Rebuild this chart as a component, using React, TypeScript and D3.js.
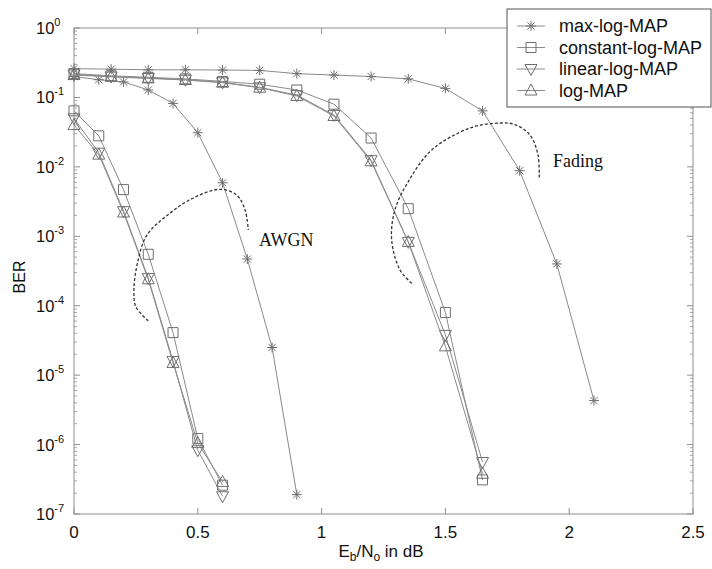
import React from "react";
import * as d3 from "d3";

// ---------- data ----------
const xAwgn = [0, 0.1, 0.2, 0.3, 0.4, 0.5, 0.6];
const xAwgnMax = [0, 0.1, 0.2, 0.3, 0.4, 0.5, 0.6, 0.7, 0.8, 0.9];
const xFade = [0, 0.15, 0.3, 0.45, 0.6, 0.75, 0.9, 1.05, 1.2, 1.35, 1.5, 1.65];
const xFadeMax = [0, 0.15, 0.3, 0.45, 0.6, 0.75, 0.9, 1.05, 1.2, 1.35, 1.5, 1.65, 1.8, 1.95, 2.1];

const maxLogAwgn = [0.2, 0.18, 0.167, 0.128, 0.082, 0.031, 5.9e-3, 4.7e-4, 2.5e-5, 1.9e-7];
const constAwgn = [0.064, 0.028, 4.7e-3, 5.5e-4, 4.1e-5, 1.22e-6, 2.6e-7];
const linearAwgn = [0.05, 0.016, 2.3e-3, 2.5e-4, 1.6e-5, 8.3e-7, 1.8e-7];
const logAwgn = [0.04, 0.015, 2.2e-3, 2.4e-4, 1.5e-5, 1.05e-6, 2.9e-7];

const maxLogFade = [0.26, 0.255, 0.25, 0.25, 0.248, 0.245, 0.22, 0.21, 0.2, 0.185, 0.135, 0.064, 0.0088, 4e-4, 4.3e-6];
const constFade = [0.22, 0.205, 0.195, 0.185, 0.17, 0.155, 0.128, 0.08, 0.026, 2.5e-3, 8e-5, 3.1e-7];
const linearFade = [0.215, 0.2, 0.19, 0.18, 0.165, 0.14, 0.108, 0.056, 0.0125, 8.3e-4, 3.8e-5, 5.6e-7];
const logFade = [0.21, 0.198, 0.188, 0.178, 0.163, 0.138, 0.105, 0.054, 0.012, 8.3e-4, 2.6e-5, 3.8e-7];

const seriesNames = ["max-log-MAP", "constant-log-MAP", "linear-log-MAP", "log-MAP"];
const seriesMarkers = ["star", "square", "tdown", "tup"];

const xTicks = [0, 0.5, 1, 1.5, 2, 2.5];
const xTickLabels = ["0", "0.5", "1", "1.5", "2", "2.5"];
const yExponents = [0, -1, -2, -3, -4, -5, -6, -7];

// annotation arcs (data coords)
const awgnArcX = [0.3, 0.25, 0.242, 0.256, 0.294, 0.388, 0.489, 0.59, 0.657, 0.691, 0.704];
const awgnArcY = [6.05e-5, 9.6e-5, 1.68e-4, 4.07e-4, 1.03e-3, 2.16e-3, 3.67e-3, 4.74e-3, 3.92e-3, 2.39e-3, 1.23e-3];
const fadeArcX = [1.364, 1.317, 1.283, 1.296, 1.349, 1.445, 1.599, 1.721, 1.781, 1.842, 1.874, 1.879];
const fadeArcY = [2.1e-4, 3.26e-4, 8.8e-4, 2.39e-3, 6.04e-3, 1.75e-2, 3.62e-2, 4.28e-2, 4.07e-2, 2.87e-2, 1.48e-2, 6.9e-3];

const annotations = [
  { text: "AWGN", x: 0.747, y: 7.2e-4 },
  { text: "Fading", x: 1.935, y: 9.9e-3 },
];

// ---------- layout ----------
const W = 712, H = 569;
const L = 74, R = 693, T = 28, B = 514;
const LINE = "#8a8a8a";
const MARK = "#6e6e6e";
const FRAME = "#8f8f8f";
const TEXT = "#111";
const SANS = "'Liberation Sans', Arial, Helvetica, sans-serif";
const SERIF = "'Liberation Serif', 'Times New Roman', serif";

const x = d3.scaleLinear().domain([0, 2.5]).range([L, R]);
const y = d3.scaleLog().domain([1e-7, 1]).range([B, T]);

function markerPath(kind: string): string {
  const r = 5;
  switch (kind) {
    case "star": {
      const d = 3.6;
      return `M${-r},0H${r}M0,${-r}V${r}M${-d},${-d}L${d},${d}M${-d},${d}L${d},${-d}`;
    }
    case "square":
      return `M-5,-5H5V5H-5Z`;
    case "tdown":
      return `M-6,-4.5L6,-4.5L0,6.5Z`;
    case "tup":
      return `M-6,4.5L6,4.5L0,-6.5Z`;
  }
  return "";
}

const line = d3
  .line<[number, number]>()
  .x((d) => x(d[0]))
  .y((d) => y(d[1]));

const arcLine = d3
  .line<[number, number]>()
  .x((d) => x(d[0]))
  .y((d) => y(d[1]))
  .curve(d3.curveCatmullRom.alpha(0.5));

function zip(xs: number[], ys: number[]): [number, number][] {
  return ys.map((v, i) => [xs[i], v]);
}

const allSeries: { pts: [number, number][]; marker: string }[] = [
  { pts: zip(xAwgnMax, maxLogAwgn), marker: "star" },
  { pts: zip(xAwgn, constAwgn), marker: "square" },
  { pts: zip(xAwgn, linearAwgn), marker: "tdown" },
  { pts: zip(xAwgn, logAwgn), marker: "tup" },
  { pts: zip(xFadeMax, maxLogFade), marker: "star" },
  { pts: zip(xFade, constFade), marker: "square" },
  { pts: zip(xFade, linearFade), marker: "tdown" },
  { pts: zip(xFade, logFade), marker: "tup" },
];

export default function App() {
  const minor: number[] = [];
  for (let e = -7; e < 0; e++) for (let m = 2; m <= 9; m++) minor.push(m * Math.pow(10, e));

  return (
    <svg
      width={W}
      height={H}
      viewBox={`0 0 ${W} ${H}`}
      style={{ position: "absolute", left: 0, top: 0, background: "#fff" }}
    >
      <rect x={0} y={0} width={W} height={H} fill="#fff" />
      {/* frame */}
      <rect x={L} y={T} width={R - L} height={B - T} fill="none" stroke={FRAME} strokeWidth={1} />
      {/* y ticks */}
      {yExponents.map((e) => (
        <g key={"ym" + e}>
          <line x1={L} x2={L + 6} y1={y(Math.pow(10, e))} y2={y(Math.pow(10, e))} stroke={FRAME} />
          <line x1={R} x2={R - 6} y1={y(Math.pow(10, e))} y2={y(Math.pow(10, e))} stroke={FRAME} />
        </g>
      ))}
      {minor.map((v, i) => (
        <g key={"yn" + i}>
          <line x1={L} x2={L + 3} y1={y(v)} y2={y(v)} stroke={FRAME} strokeWidth={0.8} />
          <line x1={R} x2={R - 3} y1={y(v)} y2={y(v)} stroke={FRAME} strokeWidth={0.8} />
        </g>
      ))}
      {/* x ticks */}
      {xTicks.map((t) => (
        <g key={"xt" + t}>
          <line x1={x(t)} x2={x(t)} y1={B} y2={B - 6} stroke={FRAME} />
          <line x1={x(t)} x2={x(t)} y1={T} y2={T + 6} stroke={FRAME} />
        </g>
      ))}
      {/* tick labels */}
      {xTicks.map((t, i) => (
        <text key={"xl" + t} x={x(t)} y={B + 24} textAnchor="middle" fontFamily={SANS} fontSize={17} fill={TEXT}>
          {xTickLabels[i]}
        </text>
      ))}
      {yExponents.map((e) => (
        <text key={"yl" + e} x={36} y={y(Math.pow(10, e)) + 6} fontFamily={SANS} fontSize={16.5} fill={TEXT}>
          10
          <tspan dy={-8} fontSize={11}>
            {String(e)}
          </tspan>
        </text>
      ))}
      {/* axis labels */}
      <text x={381} y={557} textAnchor="middle" fontFamily={SANS} fontSize={17} fill={TEXT}>
        E<tspan dy={4} fontSize={12}>b</tspan>
        <tspan dy={-4}>/N</tspan>
        <tspan dy={4} fontSize={12}>o</tspan>
        <tspan dy={-4}> in dB</tspan>
      </text>
      <text
        transform={`translate(25,${277}) rotate(-90)`}
        textAnchor="middle"
        fontFamily={SANS}
        fontSize={16}
        fill={TEXT}
      >
        BER
      </text>
      {/* series */}
      {allSeries.map((s, i) => (
        <g key={"s" + i}>
          <path d={line(s.pts) || ""} fill="none" stroke={LINE} strokeWidth={1} />
          {s.pts.map((p, j) => (
            <path
              key={j}
              d={markerPath(s.marker)}
              transform={`translate(${x(p[0])},${y(p[1])})`}
              fill="none"
              stroke={MARK}
              strokeWidth={1}
            />
          ))}
        </g>
      ))}
      {/* annotation arcs */}
      <path d={arcLine(zip(awgnArcX, awgnArcY)) || ""} fill="none" stroke="#333" strokeWidth={1.3} strokeDasharray="3,2" />
      <path d={arcLine(zip(fadeArcX, fadeArcY)) || ""} fill="none" stroke="#333" strokeWidth={1.3} strokeDasharray="3,2" />
      {annotations.map((a) => (
        <text key={a.text} x={x(a.x)} y={y(a.y)} fontFamily={SERIF} fontSize={18} fill={TEXT}>
          {a.text}
        </text>
      ))}
      {/* legend */}
      <rect x={507} y={9} width={204} height={98} fill="#fff" stroke="#555" strokeWidth={1} />
      {seriesNames.map((n, i) => {
        const yy = 26 + i * 21.5;
        return (
          <g key={n}>
            <line x1={517} x2={545} y1={yy} y2={yy} stroke={LINE} />
            <path d={markerPath(seriesMarkers[i])} transform={`translate(531,${yy})`} fill="none" stroke={MARK} />
            <text x={559} y={yy + 6} fontFamily={SANS} fontSize={18} fill={TEXT}>
              {n}
            </text>
          </g>
        );
      })}
    </svg>
  );
}
